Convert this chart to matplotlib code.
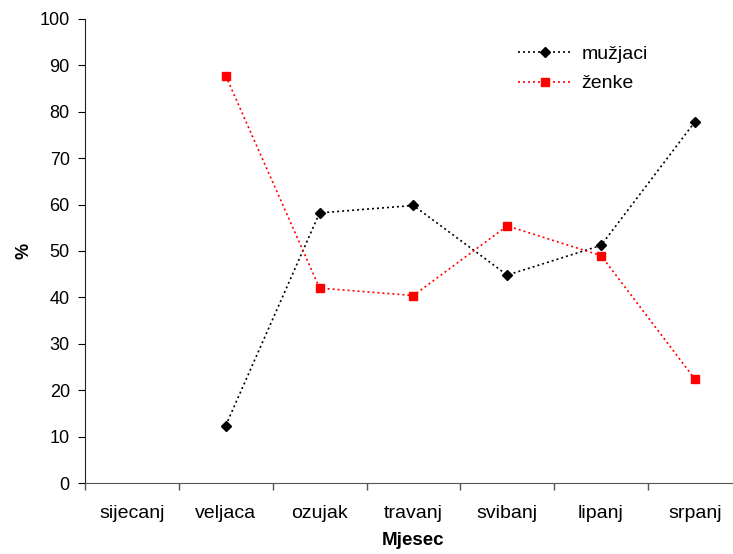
import numpy as np
import matplotlib
matplotlib.use("Agg")
import matplotlib.pyplot as plt

plt.rcParams['font.family'] = ['Liberation Sans', 'DejaVu Sans']

months = ["sijecanj", "veljaca", "ozujak", "travanj", "svibanj", "lipanj", "srpanj"]
muzjaci = [np.nan, 12.4, 58.2, 59.8, 44.8, 51.2, 77.8]
zenke = [np.nan, 87.7, 42.0, 40.4, 55.4, 49.0, 22.4]

fig = plt.figure(figsize=(7.33, 5.54), dpi=100)
ax = fig.add_axes([0.116, 0.128, 0.896, 0.838])

x = np.arange(len(months))
ax.plot(x, muzjaci, color='black', linestyle=(0, (1.2, 1.8)), linewidth=1.2,
        marker='D', markersize=5, markerfacecolor='black', label='mužjaci')
ax.plot(x, zenke, color='red', linestyle=(0, (1.2, 1.8)), linewidth=1.2,
        marker='s', markersize=6, markerfacecolor='red', markeredgecolor='red', label='ženke')

ax.set_xlim(-0.5, len(months) - 0.5)
ax.set_ylim(0, 100)
ax.set_yticks(np.arange(0, 101, 10))
ax.set_xticks(x)
ax.set_xticklabels(months, fontsize=14)
ax.set_xticks(np.arange(-0.5, len(months), 1), minor=True)
ax.tick_params(axis='x', which='major', length=0, pad=16)
ax.tick_params(axis='x', which='minor', length=5, width=1, color='#555555', direction='out')
ax.tick_params(axis='y', length=5, labelsize=13, direction='out', pad=6)
for s in ['top', 'right']:
    ax.spines[s].set_visible(False)
ax.spines['left'].set_color('#222222')
ax.spines['bottom'].set_color('#555555')

ax.set_xlabel('Mjesec', fontsize=13.5, fontweight='bold', labelpad=7)
ax.set_ylabel('%', fontsize=13, fontweight='bold', labelpad=5)

ax.legend(loc='upper left', bbox_to_anchor=(500 / 733, 1 - 28 / 554),
          bbox_transform=fig.transFigure, frameon=False, fontsize=14,
          handlelength=2.8, handletextpad=0.5, labelspacing=0.6)

fig.savefig('out.png', dpi=100)
